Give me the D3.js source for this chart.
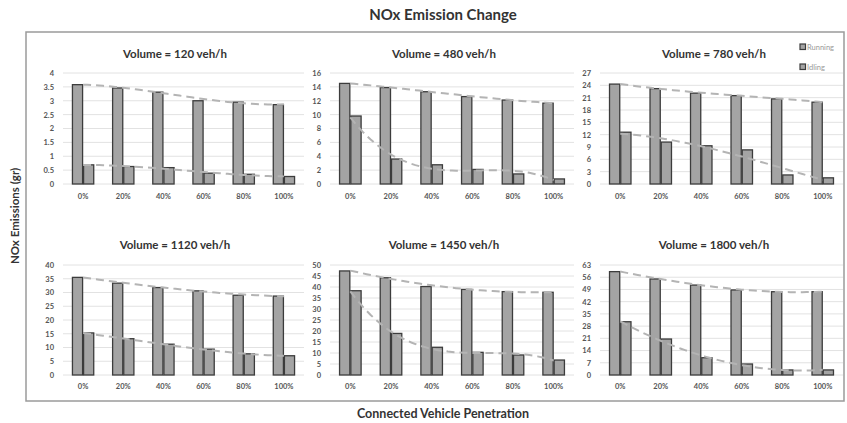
<!DOCTYPE html>
<html><head><meta charset="utf-8">
<script src="https://cdn.jsdelivr.net/npm/d3@7"></script>
<style>body{margin:0;background:#fff;} text{font-family:Lato,"Open Sans",sans-serif;}</style>
</head><body>
<svg id="c" width="847" height="423"></svg>
<script>
const categories = ["0%","20%","40%","60%","80%","100%"];
const volumes = ["120","480","780","1120","1450","1800"];
const running120 = [3.58,3.46,3.31,3.0,2.95,2.86];
const idling120 = [0.69,0.63,0.59,0.39,0.35,0.27];
const running480 = [14.5,13.9,13.3,12.6,12.1,11.65];
const idling480 = [9.8,3.6,2.77,2.1,1.45,0.73];
const running780 = [24.3,23.2,22.1,21.5,20.7,19.9];
const idling780 = [12.6,10.2,9.3,8.3,2.2,1.5];
const running1120 = [35.5,33.4,31.8,30.6,29.0,28.7];
const idling1120 = [15.3,13.2,11.2,9.4,7.7,7.0];
const running1450 = [47.3,44.2,40.2,38.9,37.9,37.6];
const idling1450 = [38.3,18.9,12.6,10.3,9.1,6.8];
const running1800 = [59.2,55.0,51.5,48.7,47.7,47.7];
const idling1800 = [30.5,20.6,9.9,6.3,2.9,2.9];
const ticks120 = [0,0.5,1,1.5,2,2.5,3,3.5,4];
const ticks480 = [0,2,4,6,8,10,12,14,16];
const ticks780 = [0,3,6,9,12,15,18,21,24,27];
const ticks1120 = [0,5,10,15,20,25,30,35,40];
const ticks1450 = [0,5,10,15,20,25,30,35,40,45,50];
const ticks1800 = [0,7,14,21,28,35,42,49,56,63];

const panels = [
  {vol:volumes[0], run:running120, idl:idling120, ticks:ticks120},
  {vol:volumes[1], run:running480, idl:idling480, ticks:ticks480},
  {vol:volumes[2], run:running780, idl:idling780, ticks:ticks780},
  {vol:volumes[3], run:running1120, idl:idling1120, ticks:ticks1120},
  {vol:volumes[4], run:running1450, idl:idling1450, ticks:ticks1450},
  {vol:volumes[5], run:running1800, idl:idling1800, ticks:ticks1800}
];
const cols = [{x0:63, x1:304, lab:54, tc:175},{x0:330, x1:574, lab:321, tc:444},{x0:600, x1:843, lab:591, tc:714}];
const rows = [{top:73, bot:184, title:58, cat:201},{top:265, bot:375, title:249, cat:391}];

const svg = d3.select("#c");
svg.append("rect").attr("x",26).attr("y",32).attr("width",818).attr("height",369)
  .attr("fill","none").attr("stroke","#9a9a9a").attr("stroke-width",1.5);
svg.append("text").attr("x",443).attr("y",20).attr("text-anchor","middle")
  .attr("font-size",15).attr("font-weight","bold").attr("fill","#333").text("NOx Emission Change");
svg.append("text").attr("x",443).attr("y",418).attr("text-anchor","middle")
  .attr("font-size",12.5).attr("font-weight","bold").attr("fill","#333").text("Connected Vehicle Penetration");
svg.append("text").attr("transform","translate(19,216) rotate(-90)").attr("text-anchor","middle")
  .attr("font-size",11.5).attr("font-weight","bold").attr("fill","#333").text("NOx Emissions (gr)");

function polyFit(ys, deg){
  // least squares polynomial trendline (like a spreadsheet trendline)
  const m=deg+1;
  const A=[];
  for(let r=0;r<m;r++){A.push(new Array(m+1).fill(0));}
  ys.forEach((yv,i)=>{
    const xi=i+1;
    for(let r=0;r<m;r++){
      for(let c=0;c<m;c++)A[r][c]+=Math.pow(xi,r+c);
      A[r][m]+=yv*Math.pow(xi,r);
    }
  });
  for(let i=0;i<m;i++){
    let piv=i; for(let j=i+1;j<m;j++) if(Math.abs(A[j][i])>Math.abs(A[piv][i])) piv=j;
    [A[i],A[piv]]=[A[piv],A[i]];
    for(let j=i+1;j<m;j++){const f=A[j][i]/A[i][i];for(let k=i;k<=m;k++)A[j][k]-=f*A[i][k];}
  }
  const c=new Array(m).fill(0);
  for(let i=m-1;i>=0;i--){let s=A[i][m];for(let k=i+1;k<m;k++)s-=A[i][k]*c[k];c[i]=s/A[i][i];}
  return t=>{const xi=t+1;let v=0;for(let k=0;k<m;k++)v+=c[k]*Math.pow(xi,k);return v;};
}

panels.forEach((p,i)=>{
  const col=cols[i%3], row=rows[Math.floor(i/3)];
  const g=svg.append("g");
  const x=d3.scaleBand().domain(categories).range([col.x0,col.x1]).paddingInner(0.47).paddingOuter(0.235);
  const ymax=p.ticks[p.ticks.length-1];
  const y=d3.scaleLinear().domain([0,ymax]).range([row.bot,row.top]);
  g.selectAll(".grid").data(p.ticks).join("line")
    .attr("x1",col.x0).attr("x2",col.x1).attr("y1",d=>y(d)).attr("y2",d=>y(d))
    .attr("stroke","#e2e2e2").attr("stroke-width",1);
  const ya=d3.axisLeft(y).tickValues(p.ticks).tickFormat(d=>String(d)).tickSize(0).tickPadding(0);
  const ag=g.append("g").attr("transform",`translate(${col.lab},0)`).call(ya);
  ag.select(".domain").remove();
  ag.selectAll("text").attr("font-size",7.5).attr("font-weight","bold").attr("fill","#555").attr("font-family","Lato,sans-serif");
  const xa=d3.axisBottom(x).tickSize(0).tickPadding(0);
  const xg=g.append("g").attr("transform",`translate(0,${row.cat-7})`).call(xa);
  xg.select(".domain").remove();
  xg.selectAll("text").attr("font-size",7.5).attr("font-weight","bold").attr("fill","#555").attr("font-family","Lato,sans-serif");
  const bw=x.bandwidth()/2 - 0.5;
  const cx=d=>x(d)+x.bandwidth()/2;
  g.selectAll(".r").data(categories).join("rect")
    .attr("x",d=>cx(d)-bw-0.5).attr("width",bw).attr("y",(d,j)=>y(p.run[j])).attr("height",(d,j)=>row.bot-y(p.run[j]))
    .attr("fill","#a4a4a4").attr("stroke","#3c3c3c").attr("stroke-width",1.3);
  g.selectAll(".i").data(categories).join("rect")
    .attr("x",d=>cx(d)+0.5).attr("width",bw).attr("y",(d,j)=>y(p.idl[j])).attr("height",(d,j)=>row.bot-y(p.idl[j]))
    .attr("fill","#a4a4a4").attr("stroke","#3c3c3c").attr("stroke-width",1.3);
  [p.run,p.idl].forEach(s=>{
    const f=polyFit(s,3);
    const x0=cx(categories[0]), x5=cx(categories[5]);
    const pts=d3.range(0,5.001,0.1).map(t=>[x0+t*(x5-x0)/5, y(Math.max(0,f(t)))]);
    g.append("path").attr("d",d3.line()(pts)).attr("fill","none")
      .attr("stroke","#b4b4b4").attr("stroke-width",2).attr("stroke-dasharray","8,5");
  });
  svg.append("text").attr("x",col.tc).attr("y",row.title).attr("text-anchor","middle")
    .attr("font-size",11.5).attr("font-weight","bold").attr("fill","#333").text(`Volume = ${p.vol} veh/h`);
});
const legend=[{name:"Running",y:47},{name:"Idling",y:67}];
legend.forEach(l=>{
  svg.append("rect").attr("x",800).attr("y",l.y-3).attr("width",5.5).attr("height",5.5)
    .attr("fill","#a4a4a4").attr("stroke","#3c3c3c").attr("stroke-width",1.2);
  svg.append("text").attr("x",807).attr("y",l.y+2.5).attr("font-size",7.5).attr("fill","#999").text(l.name);
});
</script>
</body></html>
